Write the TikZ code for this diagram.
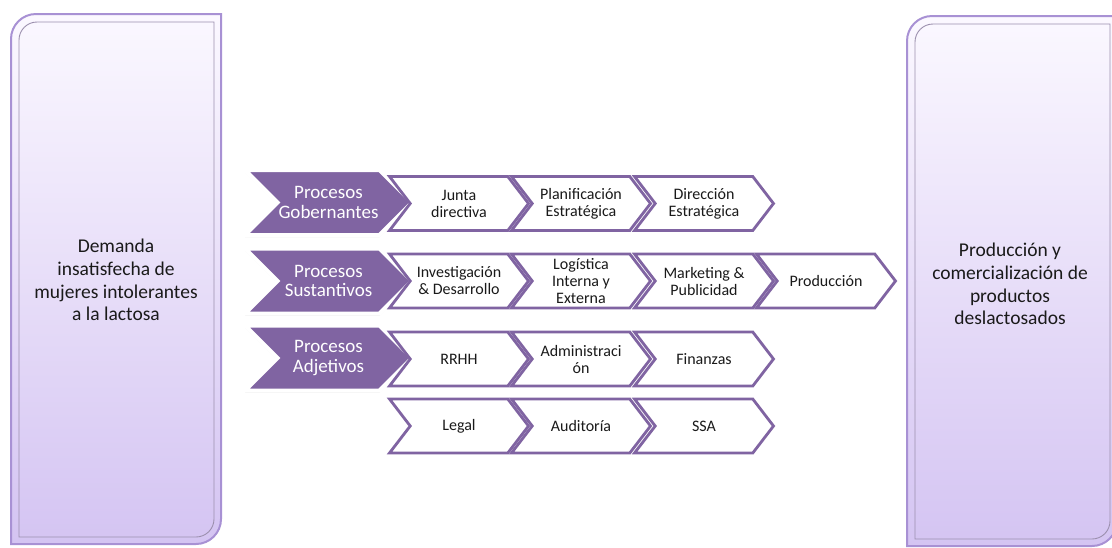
\documentclass[tikz,border=0pt]{standalone}
\usepackage{fontspec}
\setmainfont{Carlito}
\usetikzlibrary{shapes.symbols,shadows}
\definecolor{cProc}{HTML}{8064A2}
\definecolor{cEdge}{HTML}{A891D4}
\definecolor{cTop}{HTML}{FBF8FF}
\definecolor{cBot}{HTML}{D4C4F2}
\definecolor{cBevel}{HTML}{9C90AE}
\definecolor{cInk}{HTML}{1A1A1A}
\tikzset{
  panel/.style    = {draw=cEdge, line width=2pt, top color=cTop, bottom color=cBot},
  bevel/.style    = {draw=cBevel, line width=0.9pt},
  paneltext/.style = {align=center, text=cInk, font=\fontsize{19.5}{22.7}\selectfont},
  chev/.style     = {signal, signal from=west, signal to=east, align=center,
                     inner sep=0pt, outer sep=0pt},
  proc/.style     = {chev, signal pointer angle=90, fill=cProc, draw=white,
                     line width=4pt, text=white, minimum width=167pt, minimum height=65pt,
                     font=\fontsize{19}{19.5}\selectfont,
                     drop shadow={shadow xshift=0pt, shadow yshift=-2pt, opacity=0.3}},
  task/.style     = {chev, signal pointer angle=105, fill=white, draw=cProc,
                     line width=2.8pt, text=cInk, minimum width=139pt, minimum height=54pt,
                     font=\fontsize{16}{17}\selectfont},
}

\begin{document}
\begin{tikzpicture}[x=1pt, y=-1pt]
  \useasboundingbox (0,0) rectangle (1112,547);
  \clip (0,0) rectangle (1112,547);
  % ---- side panels ----
  \path[panel] (11,544) -- (11,39) arc[start angle=180, end angle=270, radius=25]
    -- (221,14) -- (221,519) arc[start angle=0, end angle=90, radius=25] -- cycle;
  \draw[bevel] (19,537) -- (19,40) arc[start angle=180, end angle=270, radius=18]
    -- (214,22) -- (214,519) arc[start angle=0, end angle=90, radius=18] -- cycle;
  \node[paneltext] (demand) at (116,280)
    {Demanda\\insatisfecha de\\mujeres intolerantes\\a la lactosa};
  \path[panel] (907,546) -- (907,41) arc[start angle=180, end angle=270, radius=25]
    -- (1117,16) -- (1117,521) arc[start angle=0, end angle=90, radius=25] -- cycle;
  \draw[bevel] (915,539) -- (915,42) arc[start angle=180, end angle=270, radius=18]
    -- (1110,24) -- (1110,521) arc[start angle=0, end angle=90, radius=18] -- cycle;
  \node[paneltext] (supply) at (1010,284)
    {Producción y\\comercialización de\\productos\\deslactosados};
  % ---- process heads ----
  \node[proc] (gob) at (328.5,202.5) {Procesos\\Gobernantes};
  \node[proc] (sus) at (328.5,281)   {Procesos\\Sustantivos};
  \node[proc] (adj) at (328.5,358)   {Procesos\\Adjetivos};
  % ---- gobernantes ----
  \node[task] (junta) at (459,203.5) {Junta\\directiva};
  \node[task] (plan)  at (581,203.5) {Planificación\\Estratégica};
  \node[task] (dir)   at (704,203.5) {Dirección\\Estratégica};
  % ---- sustantivos ----
  \node[task] (inv)   at (459,281) {Investigación\\\& Desarrollo};
  \node[task] (logi)  at (581,281) {Logística\\Interna y\\Externa};
  \node[task] (mkt)   at (704,281) {Marketing \&\\Publicidad};
  \node[task] (prod)  at (826,281) {Producción};
  % ---- adjetivos ----
  \node[task] (rrhh)  at (459,359) {RRHH};
  \node[task] (admin) at (581,359) {Administraci\\ón};
  \node[task] (fin)   at (704,359) {Finanzas};
  \node[task] (legal) at (459,426) {Legal};
  \node[task] (audit) at (581,426) {Auditoría};
  \node[task] (ssa)   at (704,426) {SSA};
\end{tikzpicture}
\end{document}
